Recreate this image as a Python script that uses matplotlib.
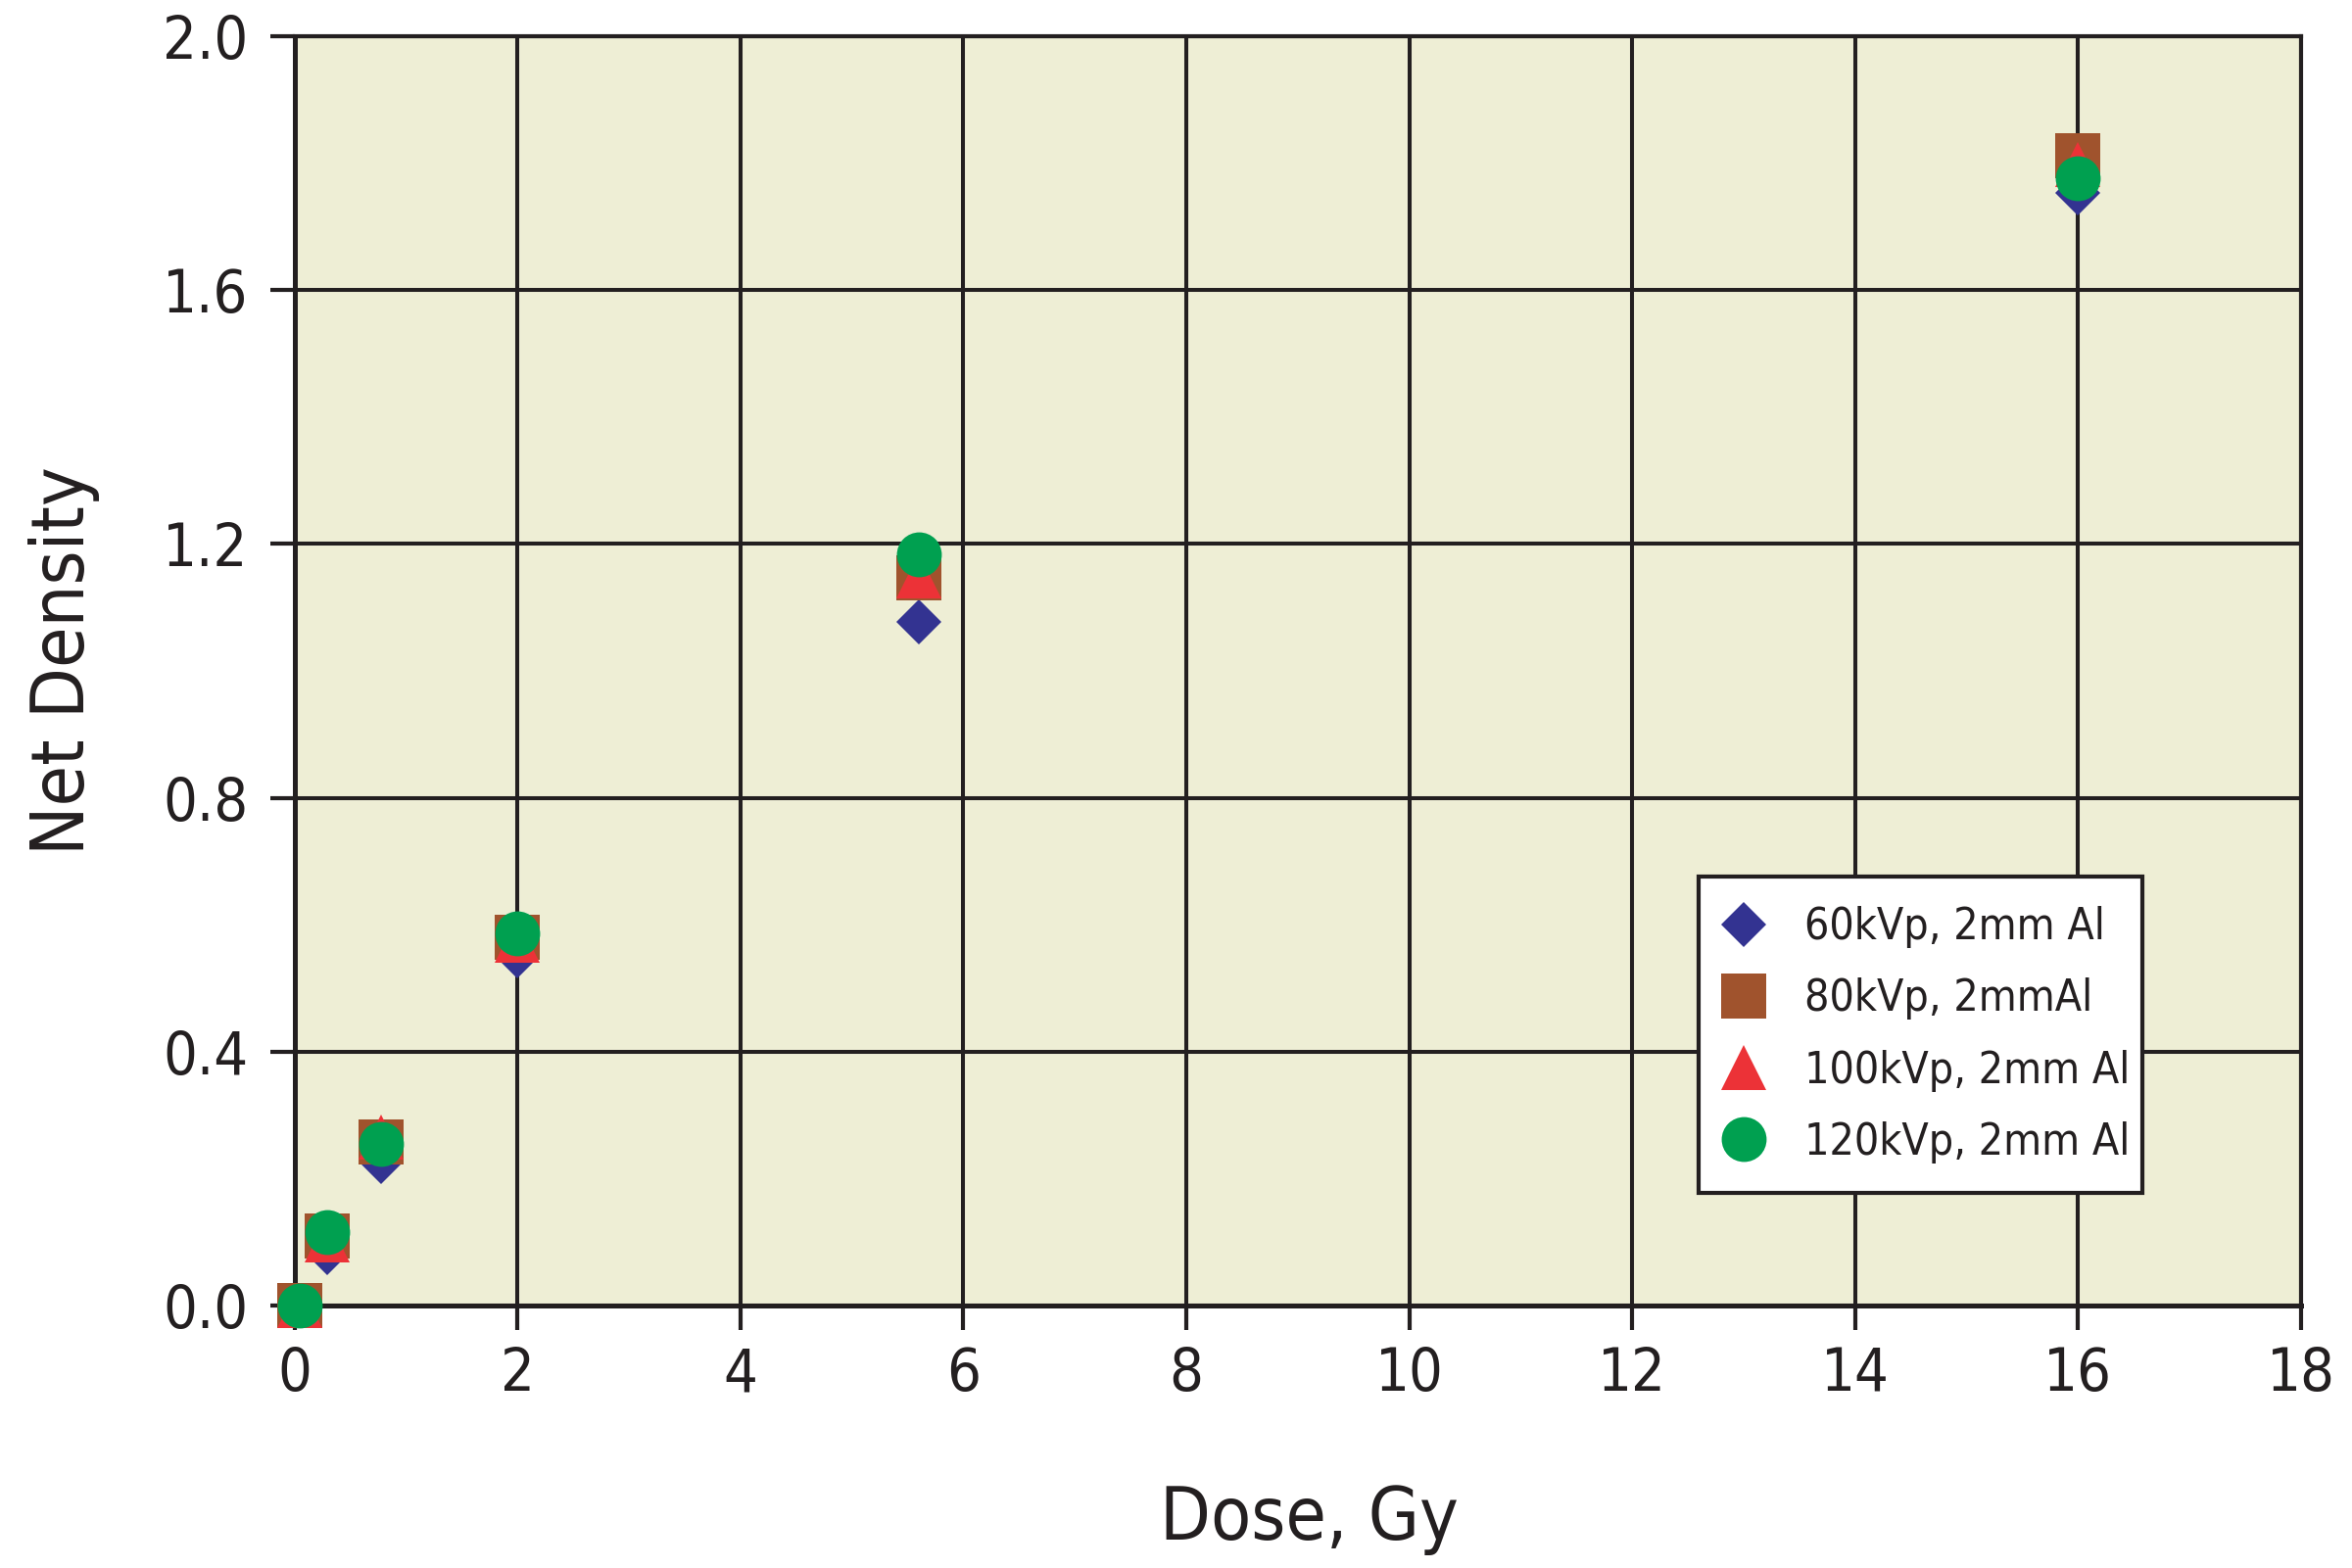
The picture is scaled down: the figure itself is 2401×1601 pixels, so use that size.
import matplotlib
matplotlib.use("Agg")
import matplotlib.pyplot as plt
import matplotlib.font_manager as fm

# pick a narrow face if one is around (reference uses a condensed sans)
names = set(f.name for f in fm.fontManager.ttflist)
if 'Liberation Sans Narrow' in names:
    family, stretch = 'Liberation Sans Narrow', 'normal'
elif any(f.name == 'DejaVu Sans' and 'ondensed' in f.fname for f in fm.fontManager.ttflist):
    family, stretch = 'DejaVu Sans', 'condensed'
else:
    family, stretch = 'Roboto', 'normal'
plt.rcParams['font.family'] = [family, 'DejaVu Sans']
plt.rcParams['font.stretch'] = stretch

# data
dose = [0.05, 0.29, 0.78, 2.0, 5.6, 16.0]
nd_60 = [0.0, 0.083, 0.227, 0.55, 1.077, 1.754]
nd_80 = [0.0, 0.109, 0.257, 0.58, 1.147, 1.812]
nd_100 = [0.0, 0.103, 0.265, 0.575, 1.15, 1.798]
nd_120 = [0.0, 0.116, 0.254, 0.586, 1.183, 1.776]
labels = ['60kVp, 2mm Al', '80kVp, 2mmAl', '100kVp, 2mm Al', '120kVp, 2mm Al']

xticks = [0, 2, 4, 6, 8, 10, 12, 14, 16, 18]
yticks = [0.0, 0.4, 0.8, 1.2, 1.6, 2.0]

ink = '#231F20'

fig = plt.figure(figsize=(24.01, 16.01), dpi=100)
ax = fig.add_axes([0.1252, 0.1676, 0.8531, 0.8091])
ax.set_facecolor('#EEEED5')

ax.plot(dose, nd_60, 'D', color='#333391', ms=23, mew=0, clip_on=False, label=labels[0], zorder=3)
ax.plot(dose, nd_80, 's', color='#A0532D', ms=33, mew=0, clip_on=False, label=labels[1], zorder=4)
ax.plot(dose, nd_100, '^', color='#EC3237', ms=33, mew=0, clip_on=False, label=labels[2], zorder=5)
ax.plot(dose, nd_120, 'o', color='#00A050', ms=33, mew=0, clip_on=False, label=labels[3], zorder=6)

ax.set_xlim(0, 18)
ax.set_ylim(0, 2.0)
ax.set_xticks(xticks)
ax.set_yticks(yticks)
ax.set_yticklabels(['%.1f' % v for v in yticks])

ax.grid(True, color=ink, lw=2.9)
ax.set_axisbelow(True)
for s in ['left', 'bottom']:
    ax.spines[s].set_linewidth(3.6)
    ax.spines[s].set_color(ink)
for s in ['top', 'right']:
    ax.spines[s].set_linewidth(3)
    ax.spines[s].set_color(ink)

ax.tick_params(axis='both', direction='out', length=18, width=3, color=ink,
               labelsize=44, labelcolor=ink)
ax.tick_params(axis='y', pad=16)
ax.tick_params(axis='x', pad=12)

ax.set_xlabel('Dose, Gy', fontsize=54, color=ink, va='center')
ax.set_ylabel('Net Density', fontsize=54, color=ink, va='center')
ax.xaxis.set_label_coords(0.5055, -0.169)
ax.yaxis.set_label_coords(-0.115, 0.508)

leg = ax.legend(loc='upper left', bbox_to_anchor=(0.700, 0.338 - 0.247, 0.221, 0.247),
                mode='expand', borderaxespad=0, fontsize=32, frameon=True,
                fancybox=False, framealpha=1, edgecolor=ink, numpoints=1,
                handlelength=0.71, handletextpad=1.02, labelspacing=0.68, borderpad=0.68)
leg.get_frame().set_linewidth(3)
for t in leg.get_texts():
    t.set_color(ink)

fig.savefig('out.png', dpi=100, facecolor='white')
